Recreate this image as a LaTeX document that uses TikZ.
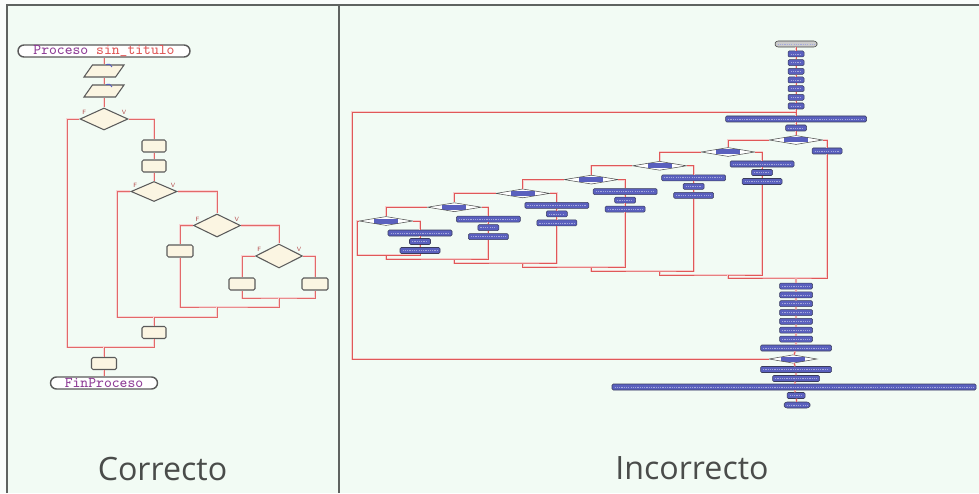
\documentclass[tikz,border=0pt]{standalone}
\usepackage{fontspec}
\usetikzlibrary{shapes.geometric}
\newfontfamily\capfont{Open Sans}

\definecolor{panelbg}{HTML}{F2FBF4}
\definecolor{framegray}{HTML}{5F6360}
\definecolor{flowred}{HTML}{E05858}
\definecolor{boxfill}{HTML}{FBF5E2}
\definecolor{shapeline}{HTML}{5A5A5A}
\definecolor{pseblue}{HTML}{5A60BE}
\definecolor{pseedge}{HTML}{3A3C5C}
\definecolor{titlegray}{HTML}{4A4C4A}
\definecolor{kwpurple}{HTML}{8E3C96}

\tikzset{
  frame/.style={draw=framegray, line width=1.1pt},
  captxt/.style={font=\capfont\fontsize{18.3}{20}\selectfont, text=titlegray, anchor=base, inner sep=0pt},
  % left chart
  lflow/.style={draw=flowred!90!white, line width=0.55pt, preaction={draw=flowred!25, line width=1.6pt}},
  term/.style={rectangle, rounded corners=1.2mm, draw=shapeline, line width=0.8pt, fill=white,
    minimum height=2.4mm, inner sep=0pt, font=\fontsize{8.5}{8.5}\selectfont\ttfamily},
  procbox/.style={rectangle, draw=shapeline, fill=boxfill, line width=0.6pt, rounded corners=0.3mm,
    minimum width=4.8mm, minimum height=2.4mm, inner sep=0pt},
  inputbox/.style={trapezium, trapezium left angle=70, trapezium right angle=110, trapezium stretches=true,
    draw=shapeline, fill=boxfill, line width=0.6pt, minimum width=8mm, minimum height=2.4mm, inner sep=0.5pt},
  fvlab/.style={font=\fontsize{3.5}{3.5}\selectfont\sffamily, text=flowred!80!black, inner sep=0.3pt},
  ifbox/.style={diamond, draw=shapeline, fill=boxfill, line width=0.6pt, minimum width=9.4mm,
    minimum height=4.4mm, inner sep=0.3pt, label={[fvlab]168:F}, label={[fvlab]12:V}},
  % right chart
  rflow/.style={draw=flowred, line width=0.5pt, preaction={draw=flowred!30, line width=1.2pt}},
  rbox/.style={rectangle, draw=pseedge, fill=pseblue, line width=0.3pt, rounded corners=0.25mm,
    minimum height=1.2mm, inner sep=0pt,
    path picture={\draw[white!45!pseblue, line width=0.35pt, dash pattern=on 0.7pt off 0.6pt]
      ([xshift=0.5mm]path picture bounding box.west) -- ([xshift=-0.5mm]path picture bounding box.east);}},
  rif/.style={diamond, draw=gray!60!black, fill=white, line width=0.3pt, minimum width=10.8mm,
    minimum height=1.8mm, inner sep=0.3pt,
    path picture={\fill[pseblue] ([xshift=-2.4mm,yshift=-0.5mm]path picture bounding box.center)
      rectangle ([xshift=2.4mm,yshift=0.5mm]path picture bounding box.center);}},
}

\begin{document}
\begin{tikzpicture}[x=0.2mm, y=-0.2mm]
\useasboundingbox (0,0) rectangle (979,493);
\fill[panelbg!40!white] (0,0) rectangle (979,493);
\fill[panelbg] (7,5) rectangle (979,493);
\draw[frame] (7,493) -- (7,5) -- (979,5);
\draw[frame] (339,5) -- (339,493);

% ---- well nested chart
\node[term, minimum width=34.4mm] (inicio) at (104,51) {\textcolor{kwpurple}{Proceso} \textcolor{flowred}{sin\_titulo}};
\node[inputbox] (leer1) at (104,71) {};
\node[inputbox] (leer2) at (104,91) {};
\node[ifbox, minimum width=9.6mm] (si1) at (104,119) {};
\node[procbox] (acc1) at (154,146) {};
\node[procbox] (acc2) at (154,166) {};
\node[ifbox, minimum width=9.2mm, minimum height=4mm] (si2) at (154,191.5) {};
\node[ifbox, minimum height=4.6mm] (si3) at (217,225.5) {};
\node[procbox, minimum width=5.2mm] (acc3) at (180,251) {};
\node[ifbox, minimum height=4.8mm] (si4) at (279,256) {};
\node[procbox, minimum width=5.2mm] (acc4) at (242,284) {};
\node[procbox, minimum width=5.2mm] (acc5) at (315,284) {};
\node[procbox] (acc6) at (154,332.5) {};
\node[procbox, minimum width=5mm] (acc7) at (104,363.5) {};
\node[term, minimum width=21.4mm] (fin) at (104,383) {\textcolor{kwpurple}{FinProceso}};

\draw[pseblue, line width=0.5pt] ([xshift=-0.9mm]leer1.north east) to[bend left=50] ([xshift=0.3mm,yshift=-0.5mm]leer1.north east);
\draw[pseblue, line width=0.5pt] ([xshift=-0.9mm]leer2.north east) to[bend left=50] ([xshift=0.3mm,yshift=-0.5mm]leer2.north east);

\coordinate (j4) at (279,298);
\coordinate (j3) at (217,307);
\coordinate (j2a) at (117,317);
\coordinate (j2) at (154,317);
\coordinate (j1a) at (67,347);
\coordinate (j1) at (104,347);

\draw[lflow] (inicio) -- (leer1) -- (leer2) -- (si1);
\draw[lflow] (si1.east) -| (acc1.north);
\draw[lflow] (acc1) -- (acc2) -- (si2);
\draw[lflow] (si2.east) -| (si3.north);
\draw[lflow] (si3.east) -| (si4.north);
\draw[lflow] (si4.west) -| (acc4.north);
\draw[lflow] (si4.east) -| (acc5.north);
\draw[lflow] (acc4.south) |- (j4) -| (acc5.south);
\draw[lflow] (si3.west) -| (acc3.north);
\draw[lflow] (acc3.south) |- (j3) -| (j4);
\draw[lflow] (si2.west) -| (j2a) -| (j3);
\draw[lflow] (j2) -- (acc6);
\draw[lflow] (si1.west) -| (j1a) -| (acc6.south);
\draw[lflow] (j1) -- (acc7) -- (fin);

% ---- deeply nested chart
\node[rbox, fill=gray!40, draw=gray!50!black, rounded corners=0.6mm, minimum width=8.4mm] (t0) at (796,44) {};
\foreach \i in {1,...,7}
  \node[rbox, minimum width=3.2mm] (s\i) at (796,{45.3+8.67*\i}) {};
\node[rbox, minimum width=28.2mm] (w1) at (796,119) {};
\node[rbox, minimum width=4.2mm] (cnt) at (796,128) {};
\node[rif] (ifa) at (796,140) {};
\node[rbox, minimum width=6mm] (a1) at (827,151) {};
\coordinate (ja) at (796,278);

\foreach \k/\n in {0/b,1/c,2/d,3/e,4/f,5/g}{
  \node[rif] (if\n) at ({728-68.4*\k},{152+13.8*\k}) {};
  \node[rbox, minimum width=12.8mm] (\n1) at ({762-68.4*\k},{164+13.8*\k}) {};
  \node[rbox, minimum width=4.2mm] (\n2) at ({762-68.4*\k},{172.5+13.8*\k}) {};
  \node[rbox, minimum width=8mm] (\n3) at ({762-68.4*\k},{181.5+13.8*\k}) {};
  \coordinate (j\n) at ({728-68.4*\k},{275-4*\k});
  \draw[rflow] (if\n.east) -| (\n1.north);
  \draw[rflow] (\n1) -- (\n2) -- (\n3);
}
\foreach \n/\m in {b/c,c/d,d/e,e/f,f/g}{
  \draw[rflow] (if\n.west) -| (if\m.north);
  \draw[rflow] (\n3.south) |- (j\n) -| (j\m);
}
\coordinate (gl) at (357,255);
\draw[rflow] (ifg.west) -| (gl) -| (g3.south);

\draw[rflow] (ifa.east) -| (a1.north);
\draw[rflow] (ifa.west) -| (ifb.north);
\draw[rflow] (a1.south) |- (ja) -| (jb);

\foreach \i in {1,...,7}
  \node[rbox, minimum width=6.6mm] (p\i) at (796,{277.2+8.83*\i}) {};
\node[rbox, minimum width=14.2mm] (pw) at (796,348) {};
\node[rif, minimum width=9.6mm, minimum height=1.7mm] (ifz) at (793,359) {};
\node[rbox, minimum width=14.2mm] (q1) at (796,369.5) {};
\node[rbox, minimum width=9.4mm] (q2) at (796,378.5) {};
\node[rbox, minimum width=72.8mm] (q3) at (794,387) {};
\node[rbox, minimum width=3.6mm] (q4) at (796,395.5) {};
\node[rbox, rounded corners=0.6mm, minimum width=5.2mm] (fin2) at (797,405) {};

\coordinate (loopc) at (352,112);
\coordinate (loopin) at (796,112);

\draw[rflow] (t0) -- (s1) -- (s2) -- (s3) -- (s4) -- (s5) -- (s6) -- (s7) -- (w1) -- (cnt) -- (ifa);
\draw[rflow] (ifz.west) -| (loopc) -- (loopin);
\draw[rflow] (ja) -- (p1) -- (p2) -- (p3) -- (p4) -- (p5) -- (p6) -- (p7) -- (pw) -- (ifz)
  -- (q1) -- (q2) -- (q3) -- (q4) -- (fin2);

\node[captxt] (okcap) at (162.5,480) {Correcto};
\node[captxt] (badcap) at (692,479) {Incorrecto};
\end{tikzpicture}
\end{document}
